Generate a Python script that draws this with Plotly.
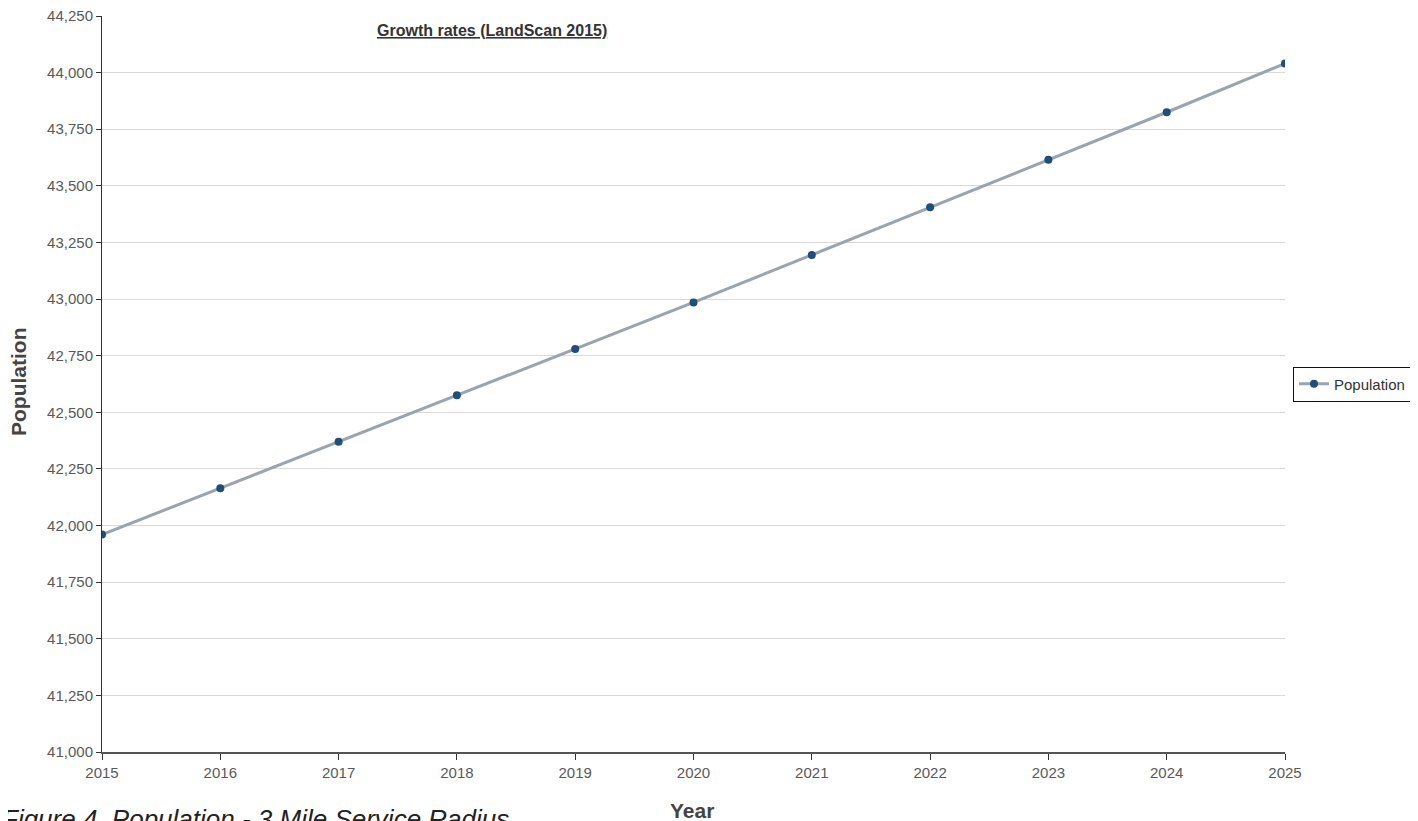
import plotly.graph_objects as go

years = [2015, 2016, 2017, 2018, 2019, 2020, 2021, 2022, 2023, 2024, 2025]
population = [41960, 42165, 42370, 42575, 42780, 42985, 43195, 43405, 43615, 43825, 44040]
y_ticks = [41000, 41250, 41500, 41750, 42000, 42250, 42500, 42750, 43000, 43250, 43500, 43750, 44000, 44250]

# page has an 8px body margin, so the figure is drawn 8px in from the corner
OFF = 8
W, H = 1418 - OFF, 821 - OFF
L, R, T, B = 102 - OFF, 133, 16 - OFF, 69
pw, ph = W - L - R, H - T - B

def px(xp):  # page pixel x -> paper fraction
    return (xp - OFF - L) / pw

def py(yp):  # page pixel y -> paper fraction
    return (H - B - (yp - OFF)) / ph

tick_font = dict(family="Liberation Sans, Arial", size=15, color="#595959")

fig = go.Figure()
fig.add_trace(go.Scatter(
    x=years, y=population, name="Population", mode="lines+markers",
    line=dict(color="#9ba4ad", width=3),
    marker=dict(color="#1f4e79", size=8),
))

fig.update_layout(
    width=W, height=H,
    margin=dict(l=L, r=R, t=T, b=B, autoexpand=False),
    paper_bgcolor="white", plot_bgcolor="white",
    showlegend=True,
    legend=dict(
        x=px(1293), xanchor="left", y=py(384), yanchor="middle",
        bordercolor="#111111", borderwidth=1,
        font=dict(family="Liberation Sans, Arial", size=15, color="#333333"),
        itemwidth=30,
    ),
    xaxis=dict(
        range=[2015, 2025], tickvals=years, ticktext=[str(y) for y in years],
        showgrid=False, zeroline=False, automargin=False,
        showline=True, linecolor="#555555", linewidth=1.5,
        ticks="outside", ticklen=6, tickcolor="#333333",
        tickfont=tick_font, ticklabeloverflow="allow",
    ),
    yaxis=dict(
        range=[41000, 44250], tickvals=y_ticks, tickformat=",",
        showgrid=True, gridcolor="#d9d9d9", gridwidth=1, zeroline=False, automargin=False,
        showline=True, linecolor="#333333", linewidth=1,
        ticks="outside", ticklen=5, tickcolor="#333333",
        tickfont=tick_font, ticklabeloverflow="allow",
    ),
    annotations=[
        dict(text="<u><b>Growth rates (LandScan 2015)</b></u>", xref="paper", yref="paper",
             x=px(492), y=py(30), xanchor="center", yanchor="middle", showarrow=False,
             font=dict(family="Liberation Sans", size=16, color="#333333")),
        dict(text="<b>Population</b>", xref="paper", yref="paper",
             x=px(18), y=py(382), xanchor="center", yanchor="middle", textangle=-90, showarrow=False,
             font=dict(family="Liberation Sans, Arial", size=21, color="#444444")),
        dict(text="<b>Year</b>", xref="paper", yref="paper",
             x=px(692), y=py(810), xanchor="center", yanchor="middle", showarrow=False,
             font=dict(family="Liberation Sans, Arial", size=21, color="#444444")),
        dict(text="<i>Figure 4. Population - 3 Mile Service Radius</i>", xref="paper", yref="paper",
             x=px(0), y=py(819), xanchor="left", yanchor="middle", showarrow=False,
             font=dict(family="Liberation Sans, Arial", size=26, color="#222222")),
    ],
)

fig.write_html("out.html")
